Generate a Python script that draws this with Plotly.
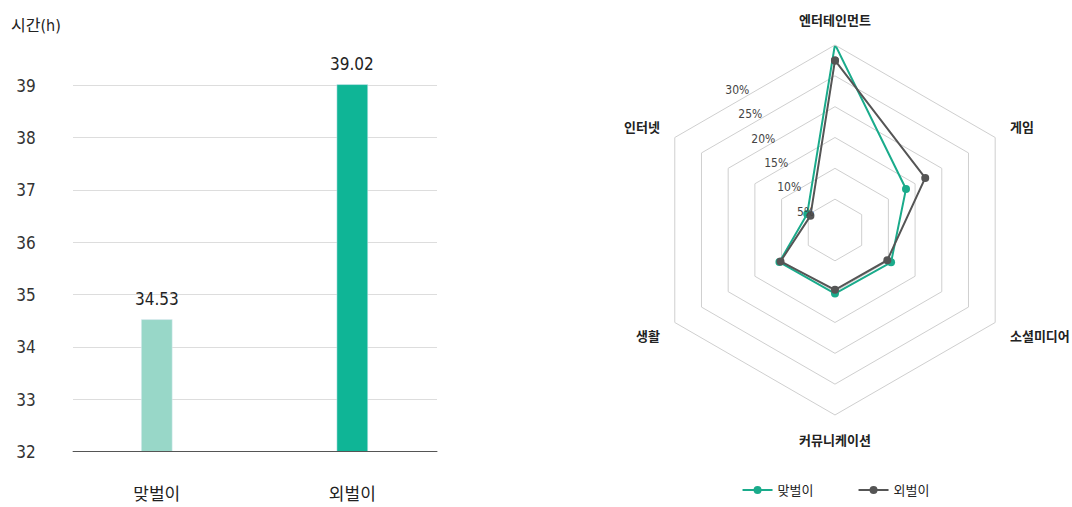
import plotly.graph_objects as go

# Bar chart data
bar_categories = ["맞벌이", "외벌이"]
bar_values = [34.53, 39.02]
bar_labels = ["34.53", "39.02"]
bar_colors = ["#98d7c8", "#0fb596"]
y_ticks = [32, 33, 34, 35, 36, 37, 38, 39]

# Radar chart data
radar_categories = ["엔터테인먼트", "게임", "소셜미디어", "커뮤니케이션", "생활", "인터넷"]
dual_income = [30.1, 13.3, 10.5, 10.3, 10.4, 5.2]
single_income = [27.5, 16.9, 9.8, 9.7, 10.2, 4.6]
radial_ticks = [5, 10, 15, 20, 25, 30]
radial_tick_text = ["5%", "10%", "15%", "20%", "25%", "30%"]

NUM_FONT = "Liberation Sans Narrow, DejaVu Sans Condensed, Roboto, Noto Sans CJK KR"
KR_FONT = "Noto Sans CJK KR"
RADAR_DOMAIN = dict(x=[0.6063, 0.9515], y=[0.1815, 0.9112])
LABEL_ANGLE = 118

fig = go.Figure()

fig.add_trace(go.Bar(
    x=bar_categories, y=bar_values, marker_color=bar_colors, width=0.158,
    showlegend=False, xaxis="x", yaxis="y", hoverinfo="x+y",
))

def closed(v):
    return list(v) + [v[0]]

fig.add_trace(go.Scatterpolar(
    r=closed(dual_income), theta=closed(radar_categories), name="맞벌이",
    mode="lines+markers", line=dict(color="#1aab8b", width=2),
    marker=dict(size=8, color="#1aab8b"), cliponaxis=False,
))
fig.add_trace(go.Scatterpolar(
    r=closed(single_income), theta=closed(radar_categories), name="외벌이",
    mode="lines+markers", line=dict(color="#555555", width=2),
    marker=dict(size=8, color="#555555"), cliponaxis=False,
))
# helper subplot that only carries the radial tick labels (placed along the ring edges)
fig.add_trace(go.Scatterpolar(
    r=[0], theta=[0], subplot="polar2", mode="markers",
    marker=dict(size=1, opacity=0), showlegend=False, hoverinfo="skip",
))

value_annotations = [
    dict(x=c, y=v, xref="x", yref="y", text=t, showarrow=False,
         yanchor="bottom", yshift=9,
         font=dict(family=NUM_FONT, size=17, color="#222"))
    for c, v, t in zip(bar_categories, bar_values, bar_labels)
]

fig.update_layout(
    width=1072, height=507,
    margin=dict(l=0, r=0, t=0, b=0),
    paper_bgcolor="white", plot_bgcolor="white",
    font=dict(family=KR_FONT, color="#222"),
    xaxis=dict(
        domain=[0.0678, 0.408], range=[-0.43, 1.435], automargin=False,
        showgrid=False, showline=False, zeroline=False, ticks="",
        tickfont=dict(family=KR_FONT, size=17, color="#222"),
        ticklabelstandoff=30,
    ),
    yaxis=dict(
        domain=[0.1085, 0.9034], range=[32, 39.7], automargin=False,
        tickvals=y_ticks, showgrid=True, gridcolor="#dddddd", gridwidth=1,
        zeroline=False, showline=False,
        tickfont=dict(family=NUM_FONT, size=17, color="#333"),
        ticklabelstandoff=36,
    ),
    polar=dict(
        domain=RADAR_DOMAIN,
        bgcolor="white",
        gridshape="linear",
        radialaxis=dict(
            range=[0, 30], tickvals=radial_ticks, showticklabels=False,
            showline=False, gridcolor="#cfcfcf", ticks="",
        ),
        angularaxis=dict(
            direction="clockwise", rotation=90, showgrid=False,
            showline=True, linecolor="#cfcfcf",
            ticks="outside", ticklen=14, tickcolor="rgba(0,0,0,0)",
            tickfont=dict(family=KR_FONT, size=13, color="#222", weight="bold"),
        ),
    ),
    polar2=dict(
        domain=RADAR_DOMAIN,
        bgcolor="rgba(0,0,0,0)",
        radialaxis=dict(
            range=[0, 33.5], tickvals=radial_ticks, ticktext=radial_tick_text,
            angle=LABEL_ANGLE, tickangle=LABEL_ANGLE, side="counterclockwise",
            showline=False, showgrid=False, ticks="",
            tickfont=dict(family=NUM_FONT, size=12, color="#444"),
        ),
        angularaxis=dict(
            showline=False, showgrid=False, showticklabels=False, ticks="",
        ),
    ),
    legend=dict(
        orientation="h", x=0.688, y=0.0335, xanchor="left", yanchor="middle",
        font=dict(family=KR_FONT, size=13, color="#222"),
        entrywidth=71, entrywidthmode="pixels",
    ),
    annotations=value_annotations + [dict(
        text="시간(h)", x=0.008, y=0.95, xref="paper", yref="paper",
        xanchor="left", yanchor="middle", showarrow=False,
        font=dict(family=NUM_FONT, size=16, color="#222"),
    )],
    shapes=[dict(
        type="line", xref="x domain", yref="y", x0=0, x1=1, y0=32, y1=32,
        line=dict(color="#555555", width=2),
    )],
)

fig.write_html("out.html")
